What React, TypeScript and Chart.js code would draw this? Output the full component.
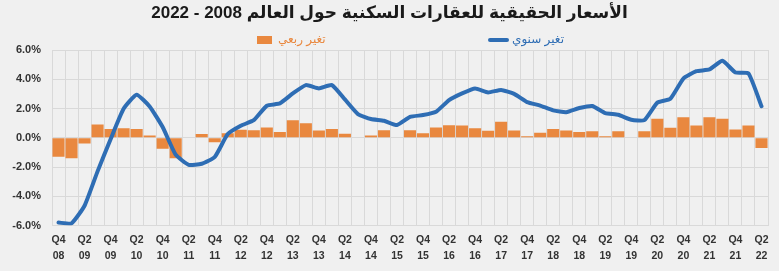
import { useEffect, useRef } from "react";
import { Chart, registerables } from "chart.js";

Chart.register(...registerables);

const titleText = "الأسعار الحقيقية للعقارات السكنية حول العالم 2008 - 2022";
const quarterlyLabel = "تغير ربعي";
const annualLabel = "تغير سنوي";

const categories = [
  "Q4 08",
  "Q1 09", "Q2 09", "Q3 09", "Q4 09",
  "Q1 10", "Q2 10", "Q3 10", "Q4 10",
  "Q1 11", "Q2 11", "Q3 11", "Q4 11",
  "Q1 12", "Q2 12", "Q3 12", "Q4 12",
  "Q1 13", "Q2 13", "Q3 13", "Q4 13",
  "Q1 14", "Q2 14", "Q3 14", "Q4 14",
  "Q1 15", "Q2 15", "Q3 15", "Q4 15",
  "Q1 16", "Q2 16", "Q3 16", "Q4 16",
  "Q1 17", "Q2 17", "Q3 17", "Q4 17",
  "Q1 18", "Q2 18", "Q3 18", "Q4 18",
  "Q1 19", "Q2 19", "Q3 19", "Q4 19",
  "Q1 20", "Q2 20", "Q3 20", "Q4 20",
  "Q1 21", "Q2 21", "Q3 21", "Q4 21",
  "Q1 22", "Q2 22",
];

const quarterlyChange = [
  -1.3,
  -1.4, -0.4, 0.9, 0.6,
  0.65, 0.6, 0.15, -0.75,
  -1.4, 0, 0.25, -0.3,
  0.3, 0.55, 0.52, 0.7,
  0.4, 1.2, 1.0, 0.5,
  0.6, 0.27, 0, 0.15,
  0.52, 0, 0.52, 0.3,
  0.7, 0.85, 0.84, 0.65,
  0.48, 1.1, 0.5, 0.1,
  0.34, 0.6, 0.5, 0.4,
  0.45, 0.1, 0.45, 0,
  0.45, 1.3, 0.68, 1.4,
  0.84, 1.4, 1.3, 0.57,
  0.84, -0.7,
];

const annualChange = [
  -5.8,
  -5.85, -4.65, -2.3, -0.1,
  1.98, 2.94, 2.14, 0.73,
  -1.16, -1.85, -1.78, -1.32,
  0.25, 0.82, 1.2, 2.19,
  2.35, 3.03, 3.6, 3.37,
  3.6, 2.62, 1.62, 1.28,
  1.16, 0.87, 1.43, 1.55,
  1.78, 2.57, 3.03, 3.37,
  3.1, 3.27, 3.0, 2.44,
  2.2, 1.87, 1.75, 2.03,
  2.17, 1.69, 1.57, 1.23,
  1.2, 2.4, 2.67, 4.05,
  4.55, 4.67, 5.26, 4.46,
  4.4, 2.16,
];

const yMin = -6;
const yMax = 6;
const yStep = 2;

const ORANGE = "#E9883F";
const BLUE = "#2E6DB4";
const GRID = "#d9d9d9";
const BG = "#f0f0f0";
const FONT = "'Liberation Sans', 'DejaVu Sans', Arial, sans-serif";

const bgPlugin = {
  id: "bgFill",
  beforeDraw(chart: any) {
    const { ctx, width, height } = chart;
    ctx.save();
    ctx.fillStyle = BG;
    ctx.fillRect(0, 0, width, height);
    ctx.restore();
  },
};

const headerPlugin = {
  id: "header",
  afterDraw(chart: any) {
    const { ctx, width } = chart;
    ctx.save();
    ctx.direction = "rtl";
    ctx.textBaseline = "middle";
    ctx.textAlign = "center";
    ctx.fillStyle = "#1a1a1a";
    ctx.font = `bold 17px ${FONT}`;
    ctx.fillText(titleText, width / 2, 13);

    // legend
    ctx.font = `12px ${FONT}`;
    ctx.textAlign = "left";
    ctx.fillStyle = ORANGE;
    ctx.fillRect(257, 36, 15, 8);
    ctx.fillText(quarterlyLabel, 278, 40);

    ctx.strokeStyle = BLUE;
    ctx.lineWidth = 4;
    ctx.lineCap = "round";
    ctx.beginPath();
    ctx.moveTo(490, 40);
    ctx.lineTo(507, 40);
    ctx.stroke();
    ctx.fillStyle = BLUE;
    ctx.fillText(annualLabel, 512, 40);
    ctx.restore();
  },
};

export default function App() {
  const ref = useRef<HTMLCanvasElement | null>(null);

  useEffect(() => {
    document.body.style.margin = "0";
    const canvas = ref.current;
    if (!canvas) return;
    const chart = new Chart(canvas, {
      type: "bar",
      data: {
        labels: categories,
        datasets: [
          {
            type: "line",
            label: annualLabel,
            data: annualChange,
            borderColor: BLUE,
            backgroundColor: BLUE,
            borderWidth: 4,
            pointRadius: 0,
            tension: 0.15,
            borderJoinStyle: "round",
            borderCapStyle: "round",
            order: 0,
          } as any,
          {
            type: "bar",
            label: quarterlyLabel,
            data: quarterlyChange,
            backgroundColor: ORANGE,
            borderWidth: 0,
            barPercentage: 0.93,
            categoryPercentage: 1,
            order: 1,
          },
        ],
      },
      options: {
        responsive: false,
        animation: false,
        events: [],
        layout: { padding: { top: 50, right: 11, left: 0, bottom: 0 } },
        plugins: {
          legend: { display: false },
          title: { display: false },
          tooltip: { enabled: false },
        },
        scales: {
          x: {
            offset: true,
            grid: { color: GRID, drawTicks: false, offset: true },
            border: { display: false },
            ticks: {
              autoSkip: false,
              maxRotation: 0,
              minRotation: 0,
              padding: 7,
              color: "#333333",
              font: { family: FONT, size: 10.5, weight: "bold", lineHeight: 1.5 },
              callback: (_v: any, i: number) =>
                i % 2 === 0 ? categories[i].split(" ") : "",
            },
            afterFit: (s: any) => {
              s.height = 45.5;
            },
          },
          y: {
            min: yMin,
            max: yMax,
            grid: { color: GRID, drawTicks: false },
            border: { display: false },
            ticks: {
              stepSize: yStep,
              padding: 11,
              color: "#333333",
              font: { family: FONT, size: 11, weight: "bold" },
              callback: (v: any) => Number(v).toFixed(1) + "%",
            },
            afterFit: (s: any) => {
              s.width = 52;
            },
          },
        },
      },
      plugins: [bgPlugin, headerPlugin],
    });
    return () => chart.destroy();
  }, []);

  return (
    <div style={{ width: 779, height: 271, background: BG }}>
      <canvas ref={ref} width={779} height={271} />
    </div>
  );
}
